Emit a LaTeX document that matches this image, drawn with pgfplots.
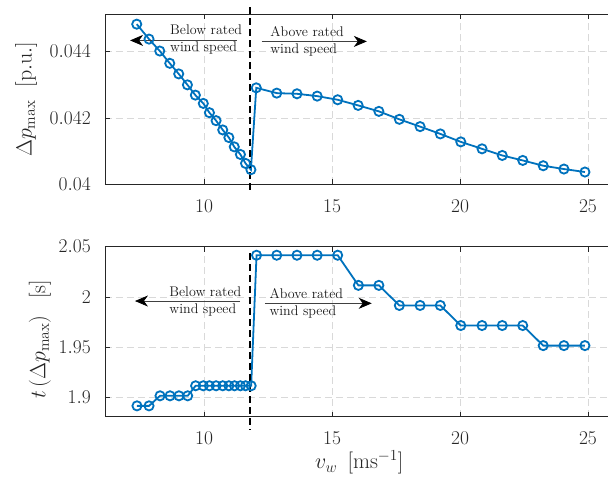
\RequirePackage{fix-cm}
\documentclass[border=0pt]{standalone}
\usepackage{pgfplots}
\pgfplotsset{compat=1.18}
\usetikzlibrary{arrows.meta}
\definecolor{mblue}{rgb}{0,0.447,0.741}
\definecolor{axgray}{rgb}{0.15,0.15,0.15}
\tikzset{
  vline/.style={black, line width=2.6pt, dash pattern=on 7pt off 4pt},
  arr/.style={black!75, line width=0.8pt, -{Stealth[length=13pt,width=11pt,inset=4pt,black]}},
  ann/.style={font=\fontsize{14}{16.7}\selectfont, align=left, inner sep=0pt, anchor=west, text=black!90},
}
\pgfplotsset{
  common/.style={
    scale only axis, width=508.6pt, height=170pt,
    xmin=6.13, xmax=26,
    xtick={10,15,20,25},
    xticklabels={$10$,$15$,$20$,$25$},
    tick align=inside, tick pos=both,
    major tick length=5pt,
    every tick/.style={axgray, line width=0.8pt},
    axis line style={axgray, line width=0.9pt},
    grid=major,
    major grid style={gray!30, line width=0.8pt, dash pattern=on 7pt off 4pt},
    tick label style={font=\fontsize{19.5}{20}\selectfont, text=axgray},
    xticklabel style={inner sep=0pt, yshift=-15pt},
    yticklabel style={inner sep=0pt, xshift=-14pt},
    label style={font=\fontsize{22}{24}\selectfont, text=axgray},
    scaled ticks=false,
    clip=false,
    anchor=south west,
  },
  dat/.style={mblue, line width=1.8pt, mark=o, mark size=4.6pt, mark options={solid, line width=1.8pt}},
}
\begin{document}
\begin{tikzpicture}
% bottom axis
\begin{axis}[common, at={(0,0)},
  ymin=1.8807, ymax=2.05,
  ytick={1.9,1.95,2,2.05},
  yticklabels={$1.9$,$1.95$,$2$,$2.05$},
  xlabel={$v_w\ \,[\mathrm{ms}^{-1}]$},
  xlabel style={at={(axis description cs:0.5,0)}, anchor=center, yshift=-46pt},
  ylabel={$t\left(\Delta p_{\max}\right)\ \ [\mathrm{s}]$},
  ylabel style={at={(axis description cs:-0.1278,0.455)}, anchor=center},
]
\addplot[dat] coordinates {
(7.38,1.8915) (7.85,1.8915) (8.28,1.9015) (8.67,1.9015) (9.02,1.9015) (9.36,1.9015)
(9.67,1.9115) (9.97,1.9115) (10.21,1.9115) (10.47,1.9115) (10.73,1.9115) (10.97,1.9115)
(11.19,1.9115) (11.42,1.9115) (11.62,1.9115) (11.84,1.9115)
(12.05,2.0415) (12.84,2.0415) (13.63,2.0415) (14.42,2.0415) (15.22,2.0415)
(16.03,2.0115) (16.83,2.0115)
(17.63,1.9915) (18.44,1.9915) (19.23,1.9915)
(20.03,1.9715) (20.86,1.9715) (21.65,1.9715) (22.45,1.9715)
(23.25,1.9515) (24.06,1.9515) (24.88,1.9515)
};
\draw[vline] (axis cs:11.8,2.0437) -- (axis cs:11.8,1.8674);
\draw[arr] (axis cs:11.41,1.9959) -- (axis cs:7.30,1.9959);
\draw[arr] (axis cs:12.38,1.9936) -- (axis cs:16.55,1.9936);
\node[ann] at (axis cs:8.64,1.9952) {Below rated\\wind speed};
\node[ann] at (axis cs:12.55,1.9936) {Above rated\\wind speed};
\end{axis}
% top axis
\begin{axis}[common, at={(0,232.4pt)},
  ymin=0.04, ymax=0.045128,
  ytick={0.04,0.042,0.044},
  yticklabels={$0.04$,$0.042$,$0.044$},
  ylabel={$\Delta p_{\max}\ \ [\mathrm{p.u.}]$},
  ylabel style={at={(axis description cs:-0.1553,0.5)}, anchor=center},
]
\addplot[dat] coordinates {
(7.37,0.04483) (7.85,0.04438) (8.27,0.04402) (8.66,0.04365) (9.01,0.04333) (9.35,0.04300)
(9.66,0.04269) (9.97,0.04244) (10.21,0.04216) (10.47,0.04192) (10.73,0.04164) (10.97,0.04141)
(11.18,0.04113) (11.42,0.04090) (11.62,0.04063) (11.83,0.04044)
(12.04,0.04291) (12.84,0.04275) (13.63,0.04273) (14.42,0.04266) (15.22,0.04255)
(16.02,0.04238) (16.83,0.04220) (17.63,0.04196) (18.44,0.04174) (19.23,0.04152)
(20.03,0.04128) (20.86,0.04107) (21.65,0.04087) (22.45,0.04072) (23.25,0.04056)
(24.06,0.04046) (24.88,0.04037)
};
\draw[vline] (axis cs:11.8,0.045348) -- (axis cs:11.8,0.03983);
\draw[arr] (axis cs:11.28,0.04434) -- (axis cs:7.11,0.04434);
\draw[arr] (axis cs:12.25,0.04431) -- (axis cs:16.36,0.04431);
\node[ann] at (axis cs:8.67,0.04436) {Below rated\\wind speed};
\node[ann] at (axis cs:12.58,0.04431) {Above rated\\wind speed};
\end{axis}
\pgfresetboundingbox
\path (-105pt,-65.3pt) rectangle (503pt,416.7pt);
\end{tikzpicture}
\end{document}
